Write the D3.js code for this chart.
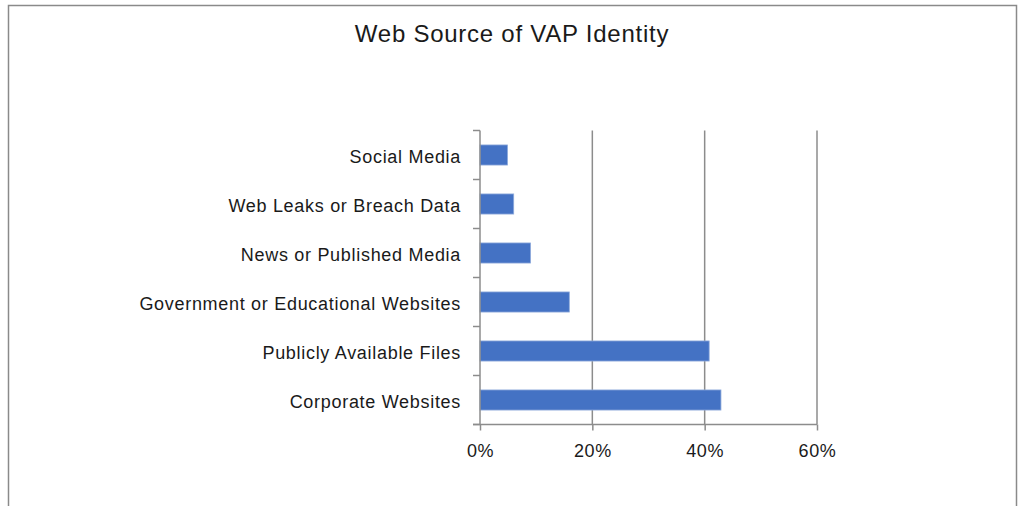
<!DOCTYPE html>
<html>
<head>
<meta charset="utf-8">
<script src="https://cdn.jsdelivr.net/npm/d3@7"></script>
<style>
  html, body { margin: 0; padding: 0; background: #fff; }
  svg { display: block; }
  text { font-family: "Liberation Sans", Arial, sans-serif; fill: #1a1a1a; }
</style>
</head>
<body>
<svg id="chart" width="1021" height="506"></svg>
<script>
// Share of VAP identities by web source (fraction of total)
const categories = [
  "Social Media",
  "Web Leaks or Breach Data",
  "News or Published Media",
  "Government or Educational Websites",
  "Publicly Available Files",
  "Corporate Websites"
];
const shares = [0.049, 0.06, 0.09, 0.159, 0.408, 0.429];
const xTicks = [0, 0.2, 0.4, 0.6];
const title = "Web Source of VAP Identity";

const svg = d3.select("#chart");

// outer chart frame (bottom edge runs past the visible area)
svg.append("rect")
  .attr("x", 8.5).attr("y", 5.5)
  .attr("width", 1008).attr("height", 520)
  .attr("fill", "#fff")
  .attr("stroke", "#8a8a8a")
  .attr("stroke-width", 1.5);

svg.append("text")
  .attr("x", 512).attr("y", 42)
  .attr("text-anchor", "middle")
  .attr("font-size", 24)
  .attr("letter-spacing", 0.75)
  .text(title);

const plot = { left: 480, right: 817, top: 130.5, bottom: 424.5 };

const x = d3.scaleLinear().domain([0, 0.6]).range([plot.left, plot.right]);
const y = d3.scaleBand().domain(categories).range([plot.top, plot.bottom])
  .paddingInner(0.59).paddingOuter(0.295);
const yEdges = d3.scaleBand().domain(categories).range([plot.top, plot.bottom]);

// vertical gridlines
svg.append("g")
  .selectAll("line")
  .data(xTicks.slice(1))
  .join("line")
  .attr("x1", d => x(d)).attr("x2", d => x(d))
  .attr("y1", plot.top).attr("y2", plot.bottom)
  .attr("stroke", "#8c8c8c")
  .attr("stroke-width", 1.5);

// bars
svg.append("g")
  .selectAll("rect")
  .data(categories)
  .join("rect")
  .attr("x", x(0))
  .attr("y", d => y(d))
  .attr("width", (d, i) => x(shares[i]) - x(0))
  .attr("height", y.bandwidth())
  .attr("fill", "#4472c4")
  .attr("stroke", "#8eaadb")
  .attr("stroke-width", 0.8);

// x axis
const xAxis = d3.axisBottom(x)
  .tickValues(xTicks)
  .tickFormat(d3.format(".0%"))
  .tickSize(6)
  .tickPadding(14);
const gx = svg.append("g")
  .attr("transform", `translate(0,${plot.bottom})`)
  .call(xAxis);
gx.select(".domain").attr("stroke", "#8c8c8c").attr("stroke-width", 1.5)
  .attr("d", `M${plot.left - 7},0H${plot.right}`);
gx.selectAll(".tick line").attr("stroke", "#8c8c8c").attr("stroke-width", 1.5);
gx.selectAll(".tick text")
  .attr("font-size", 18)
  .attr("letter-spacing", 0.6)
  .attr("font-family", "Liberation Sans, Arial, sans-serif")
  .attr("fill", "#1a1a1a");

// y axis: tick marks sit on category boundaries, labels centred on bands
const gy = svg.append("g");
gy.append("line")
  .attr("x1", plot.left).attr("x2", plot.left)
  .attr("y1", plot.top).attr("y2", plot.bottom)
  .attr("stroke", "#8c8c8c").attr("stroke-width", 1.5);
const edges = categories.map(c => yEdges(c)).concat([plot.bottom]);
gy.selectAll("line.edge")
  .data(edges)
  .join("line")
  .attr("class", "edge")
  .attr("x1", plot.left - 7).attr("x2", plot.left)
  .attr("y1", d => d).attr("y2", d => d)
  .attr("stroke", "#8c8c8c").attr("stroke-width", 1.5);
gy.selectAll("text")
  .data(categories)
  .join("text")
  .attr("x", plot.left - 19)
  .attr("y", d => yEdges(d) + yEdges.bandwidth() / 2)
  .attr("dy", "0.42em")
  .attr("text-anchor", "end")
  .attr("font-size", 18)
  .attr("letter-spacing", 0.7)
  .text(d => d);
</script>
</body>
</html>
